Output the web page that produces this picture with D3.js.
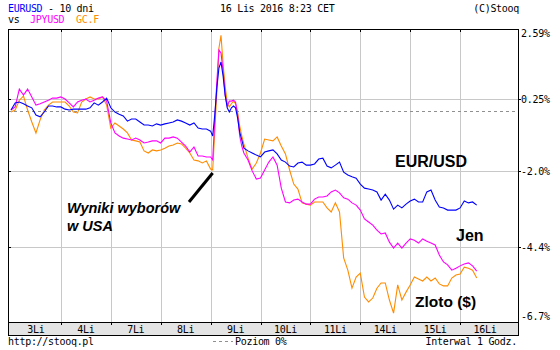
<!DOCTYPE html>
<html>
<head>
<meta charset="utf-8">
<script src="https://cdn.jsdelivr.net/npm/d3@7"></script>
<style>
  body { margin: 0; background: #fff; }
  text { font-family: "DejaVu Sans Mono", monospace; font-size: 10px; letter-spacing: -0.3px; fill: #000; }
  .big { font-family: "Liberation Sans", Arial, sans-serif; font-weight: bold; font-size: 16px; letter-spacing: 0; }
  .note { font-family: "Liberation Sans", Arial, sans-serif; font-weight: bold; font-style: italic; font-size: 14.5px; letter-spacing: 0; }
</style>
</head>
<body>
<svg id="chart" width="560" height="350"></svg>
<script>
// hours since 3 Lis 00:00 (trading hours only, weekend skipped)
const hours = [
  0, 2, 4, 6, 8, 10, 12, 14, 16, 18, 20, 22,
  24, 26, 28, 30, 32, 34, 36, 38, 40, 42, 44, 46,
  48, 50, 52, 54, 56, 58, 60, 62, 64, 66, 68, 70,
  72, 74, 76, 78, 80, 82, 84, 86, 88, 90, 92, 94,
  96, 97, 98, 99, 100, 101, 102, 103, 104, 105, 106, 107, 108, 109, 110, 111, 112, 114, 116, 118,
  120, 122, 124, 126, 128, 130, 132, 134, 136, 138, 140, 142,
  144, 146, 148, 150, 152, 154, 156, 158, 160, 162, 164, 166,
  168, 170, 172, 174, 176, 178, 180, 182, 184, 186, 188, 190,
  192, 194, 196, 198, 200, 202, 204, 206, 208, 210, 212, 214,
  216, 218, 220, 222, 224
];

// % change vs start
const eurusd = [
  0.01, 0.17, 0.19, 0.15, 0.10, 0.06, -0.15, -0.21, -0.05, 0.10, 0.10, 0.08,
  0.08, 0.03, 0.01, 0.03, 0.03, 0.03, 0.03, 0.06, 0.17, 0.12, 0.19, 0.29,
  0.06, -0.05, -0.12, -0.18, -0.35, -0.28, -0.28, -0.38, -0.48, -0.48, -0.51, -0.44,
  -0.48, -0.44, -0.41, -0.38, -0.31, -0.35, -0.41, -0.48, -0.41, -0.58, -0.61, -0.61,
  -0.68, -0.84, -0.15, 0.63, 1.29, 1.49, 1.03, 0.39, 0.06, -0.05, 0.06, 0.10, 0.06, -0.25, -0.71, -0.97, -1.24, -1.33, -1.40, -1.47,
  -1.53, -1.37, -1.33, -1.30, -1.43, -1.63, -1.70, -1.83, -1.86, -1.73, -1.70, -1.80,
  -1.80, -1.76, -1.60, -1.57, -1.83, -1.89, -1.80, -1.70, -2.03, -2.12, -2.18, -2.22,
  -2.41, -2.54, -2.57, -2.60, -2.66, -2.92, -2.73, -2.92, -3.21, -3.08, -3.17, -3.05,
  -2.95, -2.89, -2.98, -2.98, -2.66, -2.60, -2.92, -3.14, -3.17, -3.24, -3.24, -3.24,
  -3.17, -2.95, -3.01, -2.98, -3.08
];

const jpyusd = [
  0.01, 0.08, 0.59, 0.39, 0.59, 0.33, 0.12, 0.15, 0.19, 0.23, 0.29, 0.29,
  0.33, 0.26, 0.17, 0.08, 0.19, 0.23, 0.26, 0.19, 0.23, 0.29, 0.33, 0.21,
  -0.41, -0.74, -0.84, -0.91, -0.94, -0.97, -0.91, -0.97, -1.07, -1.04, -1.00, -1.00,
  -1.07, -0.91, -0.91, -0.87, -0.91, -1.04, -1.17, -1.37, -1.20, -1.50, -1.50, -1.53,
  -1.53, -1.63, -0.31, 0.83, 1.89, 1.79, 1.19, 0.39, 0.10, 0.21, 0.21, 0.23, 0.19, -0.15, -0.84, -1.17, -1.40, -1.63, -1.99, -2.25,
  -2.22, -1.96, -1.70, -1.53, -1.80, -2.54, -2.98, -3.01, -2.92, -2.89, -2.98, -3.05,
  -3.05, -2.89, -2.82, -2.82, -2.79, -2.66, -2.60, -2.69, -2.85, -2.89, -3.01, -3.08,
  -3.24, -3.52, -3.62, -3.72, -3.88, -4.00, -3.97, -4.26, -4.45, -4.29, -4.45, -4.29,
  -4.16, -4.20, -4.29, -4.16, -4.23, -4.29, -4.35, -4.66, -4.87, -4.96, -5.12, -5.06,
  -4.99, -4.93, -4.90, -4.99, -5.15
];

const gold = [
  -0.05, 0.01, 0.23, 0.36, 0.01, -0.38, -0.74, -0.31, 0.01, 0.12, 0.19, 0.19,
  0.19, 0.19, 0.10, -0.05, -0.08, 0.19, 0.26, 0.33, 0.26, 0.26, 0.33, 0.12,
  -0.58, -0.41, -0.51, -0.61, -0.74, -0.97, -1.00, -1.04, -1.33, -1.40, -1.30, -1.33,
  -1.30, -1.24, -1.17, -1.14, -1.07, -1.10, -1.24, -1.40, -1.63, -1.66, -1.73, -1.66,
  -1.93, -1.96, -0.71, 0.49, 1.95, 2.38, 1.43, 0.69, 0.17, 0.08, 0.15, 0.21, 0.15, -0.05, -0.51, -0.84, -1.10, -1.57, -1.93, -1.73,
  -1.40, -0.94, -0.97, -1.00, -0.87, -1.17, -1.43, -1.96, -2.41, -2.57, -3.01, -3.05,
  -3.08, -2.98, -2.98, -2.98, -3.17, -3.30, -3.01, -3.30, -4.75, -5.12, -5.67, -5.33,
  -5.21, -5.94, -6.09, -5.97, -5.67, -5.51, -5.51, -6.03, -6.43, -5.57, -6.03, -5.79,
  -5.57, -5.33, -5.39, -5.45, -5.33, -5.45, -5.36, -5.54, -5.60, -5.60, -5.36, -5.27,
  -5.24, -5.03, -5.06, -5.12, -5.36
];

const dayLabels = ["3Li", "4Li", "7Li", "8Li", "9Li", "10Li", "11Li", "14Li", "15Li", "16Li"];
const gridValues = [0.25, -2.0, -4.4];
const axisLabels = ["2.59%", "0.25%", "-2.0%", "-4.4%", "-6.7%"];
const axisValues = [2.59, 0.25, -2.0, -4.4, -6.7];

// layout
const plotLeft = 8, plotRight = 518, plotTop = 29, plotBottom = 322, stripH = 13;

const svg = d3.select("#chart");

const x = d3.scaleLinear().domain([0, 240]).range([11, 510]);
const y = d3.scaleLinear()
    .domain([2.59, 0.25, 0, -2.0, -4.4, -6.7])
    .range([29, 99.3, 110.5, 171.2, 246.5, 322]);

const px = v => Math.round(v) + 0.5;

// grid
const grid = svg.append("g").attr("shape-rendering", "crispEdges");
dayLabels.slice(1).forEach((d, i) => {
    const xx = px(x((i + 1) * 24));
    grid.append("line").attr("x1", xx).attr("x2", xx).attr("y1", plotTop).attr("y2", plotBottom)
        .attr("stroke", "#c8c8c8");
});
gridValues.forEach(v => {
    grid.append("line").attr("x1", plotLeft).attr("x2", plotRight).attr("y1", px(y(v))).attr("y2", px(y(v)))
        .attr("stroke", "#c8c8c8");
});

// zero level
svg.append("line")
    .attr("x1", plotLeft).attr("x2", plotRight)
    .attr("y1", px(y(0))).attr("y2", px(y(0)))
    .attr("stroke", "#909090").attr("stroke-dasharray", "3,3")
    .attr("shape-rendering", "crispEdges");

// series
const line = d3.line()
    .x((d, i) => x(hours[i]))
    .y(d => y(d));

[[gold, "#ff8c00"], [jpyusd, "#ff00ff"], [eurusd, "#0000ff"]].forEach(([data, color]) => {
    svg.append("path")
        .datum(data)
        .attr("fill", "none")
        .attr("stroke", color)
        .attr("stroke-width", 1.1)
        .attr("d", line);
});

// frame, date strip, ticks
const frame = svg.append("g").attr("shape-rendering", "crispEdges");
frame.append("rect")
    .attr("x", plotLeft + 0.5).attr("y", plotBottom + 0.5)
    .attr("width", plotRight - plotLeft).attr("height", stripH)
    .attr("fill", "#e4e4e4").attr("stroke", "#000");
frame.append("rect")
    .attr("x", plotLeft + 0.5).attr("y", plotTop + 0.5)
    .attr("width", plotRight - plotLeft).attr("height", plotBottom - plotTop)
    .attr("fill", "none").attr("stroke", "#000");

dayLabels.slice(1).forEach((d, i) => {
    const xx = px(x((i + 1) * 24));
    frame.append("line").attr("x1", xx).attr("x2", xx).attr("y1", plotTop).attr("y2", plotTop + 3).attr("stroke", "#000");
    frame.append("line").attr("x1", xx).attr("x2", xx).attr("y1", plotBottom).attr("y2", plotBottom + 3).attr("stroke", "#000");
});
gridValues.forEach(v => {
    const yy = px(y(v));
    frame.append("line").attr("x1", plotLeft).attr("x2", plotLeft + 3).attr("y1", yy).attr("y2", yy).attr("stroke", "#000");
    frame.append("line").attr("x1", plotRight).attr("x2", plotRight + 3).attr("y1", yy).attr("y2", yy).attr("stroke", "#000");
});

svg.append("g").selectAll("text")
    .data(dayLabels)
    .join("text")
    .attr("x", (d, i) => x(i * 24 + 12))
    .attr("y", plotBottom + 10.5)
    .attr("text-anchor", "middle")
    .text(d => d);

// right axis labels
svg.append("g").selectAll("text")
    .data(axisValues)
    .join("text")
    .attr("x", plotRight + 3)
    .attr("y", (d, i) => i === 0 ? y(d) + 8 : i === axisValues.length - 1 ? y(d) - 2 : y(d) + 4)
    .text((d, i) => axisLabels[i]);

// header
svg.append("text").attr("x", 8).attr("y", 12).style("fill", "#0000ff").text("EURUSD");
svg.append("text").attr("x", 48).attr("y", 12).text("- 10 dni");
svg.append("text").attr("x", 8).attr("y", 23).text("vs");
svg.append("text").attr("x", 30).attr("y", 23).style("fill", "#ff00ff").text("JPYUSD");
svg.append("text").attr("x", 76).attr("y", 23).style("fill", "#ff8c00").text("GC.F");
svg.append("text").attr("x", 220).attr("y", 12).text("16 Lis 2016 8:23 CET");
svg.append("text").attr("x", 519).attr("y", 12).attr("text-anchor", "end").text("(C)Stooq");

// footer
svg.append("text").attr("x", 8).attr("y", 345).text("http://stooq.pl");
svg.append("line")
    .attr("x1", 213).attr("x2", 233).attr("y1", 341.5).attr("y2", 341.5)
    .attr("stroke", "#909090").attr("stroke-dasharray", "3,3")
    .attr("shape-rendering", "crispEdges");
svg.append("text").attr("x", 235).attr("y", 345).text("Poziom 0%");
svg.append("text").attr("x", 517).attr("y", 345).attr("text-anchor", "end").text("Interwal 1 Godz.");

// series names
svg.append("text").attr("class", "big").attr("x", 395).attr("y", 167).text("EUR/USD");
svg.append("text").attr("class", "big").attr("x", 456).attr("y", 241).text("Jen");
svg.append("text").attr("class", "big").attr("x", 415).attr("y", 307).style("font-size", "15.5px").text("Zloto ($)");

// election annotation
svg.append("line")
    .attr("x1", 189).attr("y1", 202)
    .attr("x2", x(97)).attr("y2", y(gold[49]) + 3)
    .attr("stroke", "#000").attr("stroke-width", 3);
svg.append("text").attr("class", "note").attr("x", 67).attr("y", 213).text("Wyniki wyborów");
svg.append("text").attr("class", "note").attr("x", 67).attr("y", 231).text("w USA");
</script>
</body>
</html>
